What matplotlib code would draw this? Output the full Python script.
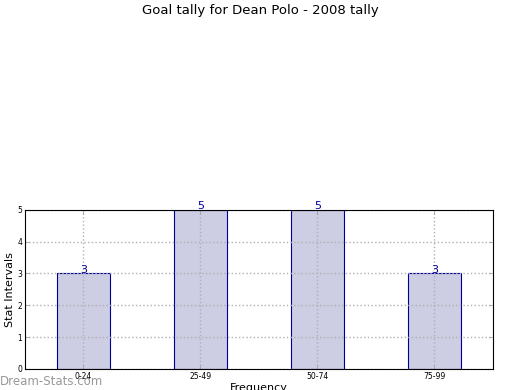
import matplotlib
matplotlib.use("Agg")
import matplotlib.pyplot as plt

# stat intervals and counts
intervals = ['0-24', '25-49', '50-74', '75-99']
counts = [3, 5, 5, 3]
yticks = [0, 1, 2, 3, 4, 5]


def main():
    fig = plt.figure(figsize=(5.2, 3.9), dpi=100)
    ax = fig.add_axes([0.048, 0.054, 0.9, 0.408])

    pos = list(range(len(intervals)))
    ax.bar(pos, counts, width=0.45, color='#cdcde4', edgecolor='#000099',
           linewidth=0.8, zorder=1)
    for x, c in zip(pos, counts):
        ax.text(x, c - 0.05, str(c), ha='center', va='bottom', color='#000099',
                fontsize=8, zorder=4)

    ax.set_xlim(-0.5, 3.5)
    ax.set_ylim(0, 5)
    ax.set_xticks(pos)
    ax.set_xticklabels(intervals, fontsize=5.5)
    ax.set_yticks(yticks)
    ax.set_yticklabels([str(v) for v in yticks], fontsize=5.5)
    ax.tick_params(direction='in', length=3, width=0.5, color='#999999', pad=2,
                   top=True, right=True)
    ax.grid(True, linestyle=':', color='#b0b0b0', linewidth=1, zorder=2)
    ax.set_axisbelow(False)
    for s in ax.spines.values():
        s.set_linewidth(0.8)
        s.set_zorder(5)

    ax.set_ylabel('Stat Intervals', fontsize=8, labelpad=2)
    ax.set_xlabel('Frequency', fontsize=8, labelpad=2)

    fig.text(0.5, 0.973, 'Goal tally for Dean Polo - 2008 tally',
             ha='center', va='center', fontsize=9.5)
    fig.text(0.0, 0.022, 'Dream-Stats.com', ha='left', va='center',
             fontsize=8.5, color='#999999')

    fig.savefig('out.png', dpi=100)


if __name__ == '__main__':
    main()
